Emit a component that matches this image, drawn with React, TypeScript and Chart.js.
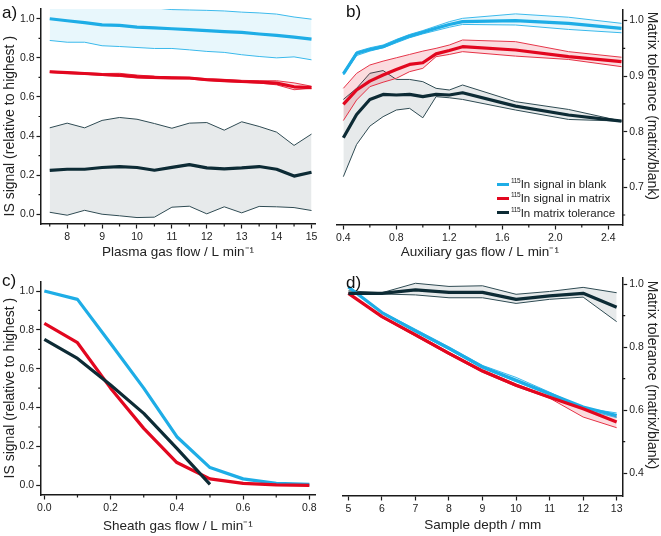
import React, { useEffect, useRef } from 'react';
import { Chart, registerables } from 'chart.js';

Chart.register(...registerables);

// ---------- colours & font ----------
const FONT = "'Liberation Sans', Arial, Helvetica, sans-serif";
const BLUE = '#1eade6';
const BLUE_BAND = '#3cbaec';
const BLUE_FILL = 'rgba(30,173,230,0.10)';
const RED = '#e2071f';
const RED_BAND = '#e6364a';
const RED_FILL = 'rgba(226,7,31,0.14)';
const DARK = '#0d2b35';
const DARK_BAND = '#2f4b53';
const DARK_FILL = 'rgba(60,80,90,0.12)';
const AXIS = '#1a1a1a';
const TEXT = '#222222';

// ---------- panel a: plasma gas flow ----------
const plasmaFlow = [7.5, 8, 8.5, 9, 9.5, 10, 10.5, 11, 11.5, 12, 12.5, 13, 13.5, 14, 14.5, 15];
const plasmaBlank = [1.0, 0.99, 0.98, 0.969, 0.966, 0.957, 0.953, 0.949, 0.944, 0.939, 0.934, 0.93, 0.922, 0.915, 0.906, 0.896];
const plasmaBlankHi = [1.11, 1.1, 1.09, 1.08, 1.075, 1.065, 1.056, 1.047, 1.045, 1.043, 1.04, 1.034, 1.03, 1.024, 1.009, 0.998];
const plasmaBlankLo = [0.889, 0.88, 0.88, 0.862, 0.858, 0.853, 0.848, 0.848, 0.841, 0.833, 0.828, 0.816, 0.807, 0.8, 0.805, 0.79];
const plasmaMatrix = [0.729, 0.724, 0.72, 0.715, 0.712, 0.704, 0.7, 0.698, 0.697, 0.688, 0.684, 0.679, 0.676, 0.671, 0.652, 0.648];
const plasmaMatrixHi = [0.732, 0.728, 0.724, 0.72, 0.721, 0.712, 0.706, 0.702, 0.7, 0.694, 0.69, 0.685, 0.683, 0.683, 0.672, 0.655];
const plasmaMatrixLo = [0.725, 0.72, 0.716, 0.71, 0.705, 0.697, 0.694, 0.694, 0.692, 0.684, 0.679, 0.675, 0.671, 0.662, 0.637, 0.644];
const plasmaTol = [0.224, 0.23, 0.23, 0.239, 0.244, 0.239, 0.225, 0.24, 0.254, 0.237, 0.232, 0.237, 0.244, 0.23, 0.195, 0.215];
const plasmaTolHi = [0.442, 0.466, 0.442, 0.48, 0.495, 0.486, 0.464, 0.44, 0.466, 0.469, 0.43, 0.473, 0.449, 0.42, 0.352, 0.41];
const plasmaTolLo = [0.01, -0.005, 0.02, 0.0, -0.008, -0.017, -0.015, 0.036, 0.041, 0.002, 0.038, 0.007, 0.04, 0.038, 0.034, 0.019];

// ---------- panel b: auxiliary gas flow ----------
const auxFlow = [0.4, 0.5, 0.6, 0.7, 0.8, 0.9, 1.0, 1.1, 1.2, 1.3, 1.7, 2.1, 2.5];
const auxBlank = [0.904, 0.941, 0.948, 0.953, 0.963, 0.972, 0.979, 0.986, 0.993, 0.998, 1.0, 0.995, 0.986];
const auxBlankHi = [0.906, 0.944, 0.951, 0.956, 0.966, 0.975, 0.982, 0.99, 0.998, 1.004, 1.012, 1.006, 0.995];
const auxBlankLo = [0.902, 0.937, 0.945, 0.951, 0.96, 0.969, 0.976, 0.982, 0.988, 0.993, 0.992, 0.984, 0.978];
const auxMatrix = [0.849, 0.875, 0.891, 0.902, 0.912, 0.921, 0.924, 0.94, 0.946, 0.953, 0.947, 0.935, 0.926];
const auxMatrixHi = [0.878, 0.905, 0.92, 0.927, 0.933, 0.939, 0.945, 0.95, 0.956, 0.965, 0.962, 0.944, 0.934];
const auxMatrixLo = [0.82, 0.857, 0.881, 0.889, 0.896, 0.908, 0.914, 0.935, 0.939, 0.944, 0.936, 0.93, 0.917];
const auxTol = [0.789, 0.831, 0.858, 0.867, 0.866, 0.867, 0.863, 0.867, 0.866, 0.87, 0.846, 0.83, 0.819];
const auxTolHi = [0.858, 0.878, 0.905, 0.91, 0.894, 0.894, 0.89, 0.878, 0.875, 0.884, 0.854, 0.84, 0.819];
const auxTolLo = [0.719, 0.777, 0.81, 0.827, 0.839, 0.842, 0.825, 0.863, 0.861, 0.858, 0.839, 0.822, 0.819];

// ---------- panel c: sheath gas flow ----------
const sheathFlow = [0, 0.1, 0.2, 0.3, 0.4, 0.5, 0.6, 0.7, 0.8];
const sheathBlank = [1.0, 0.957, 0.73, 0.5, 0.25, 0.091, 0.033, 0.01, 0.005];
const sheathMatrix = [0.833, 0.734, 0.5, 0.293, 0.117, 0.033, 0.01, 0.002, 0.0];
const sheathTolFlow = [0, 0.1, 0.2, 0.3, 0.4, 0.5];
const sheathTol = [0.751, 0.653, 0.516, 0.37, 0.19, 0.005];

// ---------- panel d: sample depth ----------
const depth = [5, 6, 7, 8, 9, 10, 11, 12, 13];
const depthTol = [0.971, 0.971, 0.982, 0.974, 0.974, 0.952, 0.963, 0.971, 0.927];
const depthTolHi = [0.979, 0.973, 1.003, 0.993, 0.995, 0.968, 0.977, 0.99, 0.973];
const depthTolLo = [0.969, 0.969, 0.966, 0.957, 0.957, 0.939, 0.952, 0.959, 0.881];
const depthBlank = [0.991, 0.91, 0.852, 0.796, 0.737, 0.695, 0.652, 0.61, 0.583];
const depthBlankHi = [0.992, 0.912, 0.857, 0.801, 0.742, 0.704, 0.657, 0.607, 0.591];
const depthBlankLo = [0.99, 0.908, 0.848, 0.792, 0.733, 0.69, 0.648, 0.603, 0.576];
const depthMatrix = [0.971, 0.897, 0.839, 0.78, 0.724, 0.679, 0.641, 0.604, 0.562];
const depthMatrixHi = [0.973, 0.899, 0.843, 0.784, 0.728, 0.683, 0.643, 0.61, 0.578];
const depthMatrixLo = [0.969, 0.894, 0.835, 0.776, 0.72, 0.675, 0.638, 0.578, 0.544];

// ---------- ticks ----------
const plasmaMajorX = [8, 9, 10, 11, 12, 13, 14, 15];
const plasmaMinorX = [7.5, 8.5, 9.5, 10.5, 11.5, 12.5, 13.5, 14.5];
const signalMajorY = [0, 0.2, 0.4, 0.6, 0.8, 1.0];
const signalMinorY = [0.1, 0.3, 0.5, 0.7, 0.9];
const auxMajorX = [0.4, 0.8, 1.2, 1.6, 2.0, 2.4];
const auxMinorX = [0.6, 1.0, 1.4, 1.8, 2.2];
const tolMajorB = [0.7, 0.8, 0.9, 1.0];
const tolMinorB = [0.65, 0.75, 0.85, 0.95];
const sheathMajorX = [0, 0.2, 0.4, 0.6, 0.8];
const sheathMinorX = [0.1, 0.3, 0.5, 0.7];
const depthMajorX = [5, 6, 7, 8, 9, 10, 11, 12, 13];
const tolMajorD = [0.4, 0.6, 0.8, 1.0];
const tolMinorD = [0.5, 0.7, 0.9];

// ---------- labels ----------
const ySignalTitle = 'IS signal (relative to highest )';
const yTolTitle = 'Matrix tolerance (matrix/blank)';
const xTitleA = 'Plasma gas flow / L min\u207B\u00B9';
const xTitleB = 'Auxiliary gas flow / L min\u207B\u00B9';
const xTitleC = 'Sheath gas flow / L min\u207B\u00B9';
const xTitleD = 'Sample depth / mm';
const legendIsotope = '115';
const legendLabels = ['In signal in blank', 'In signal in matrix', 'In matrix tolerance'];
const legendColors = [BLUE, RED, DARK];

// ---------- helpers ----------
function pts(xs: number[], ys: number[]) {
  return xs.map((x, i) => ({ x, y: ys[i] }));
}
function line(xs: number[], ys: number[], color: string, width: number, extra: any = {}) {
  return {
    data: pts(xs, ys),
    borderColor: color,
    backgroundColor: color,
    borderWidth: width,
    pointRadius: 0,
    pointHoverRadius: 0,
    tension: 0,
    fill: false,
    borderJoinStyle: 'round',
    ...extra,
  };
}
function band(xs: number[], hi: number[], lo: number[], color: string, fillColor: string) {
  return [
    line(xs, hi, color, 1, { fill: '+1', backgroundColor: fillColor }),
    line(xs, lo, color, 1),
  ];
}
const near = (a: number, list: number[]) => list.some((b) => Math.abs(a - b) < 1e-6);

// draws short minor tick marks on scales that define options.minorValues
const minorTickPlugin = {
  id: 'minorTicks',
  afterDraw(chart: any) {
    const ctx = chart.ctx;
    Object.values(chart.scales).forEach((s: any) => {
      const vals: number[] = s.options.minorValues || [];
      if (!vals.length) return;
      ctx.save();
      ctx.strokeStyle = AXIS;
      ctx.lineWidth = 1.2;
      ctx.beginPath();
      vals.forEach((v) => {
        const p = s.getPixelForValue(v);
        if (s.isHorizontal()) {
          ctx.moveTo(p, s.top);
          ctx.lineTo(p, s.top + 2.5);
        } else if (s.position === 'right') {
          ctx.moveTo(s.left, p);
          ctx.lineTo(s.left + 2.5, p);
        } else {
          ctx.moveTo(s.right, p);
          ctx.lineTo(s.right - 2.5, p);
        }
      });
      ctx.stroke();
      ctx.restore();
    });
  },
};

function axis(o: any) {
  const majors: number[] = o.majors;
  return {
    type: 'linear',
    position: o.position,
    min: o.min,
    max: o.max,
    minorValues: o.minors || [],
    afterBuildTicks: (s: any) => {
      s.ticks = majors.map((v) => ({ value: v }));
    },
    afterFit: (s: any) => {
      if (o.position === 'bottom') s.height = o.size;
      else s.width = o.size;
    },
    ticks: {
      autoSkip: false,
      maxRotation: 0,
      minRotation: 0,
      padding: 2,
      color: TEXT,
      font: { family: FONT, size: 10.5 },
      callback: (v: number) => (near(v, majors) ? o.fmt(v) : ''),
    },
    grid: {
      display: true,
      drawOnChartArea: false,
      drawTicks: true,
      tickLength: 4.5,
      tickColor: AXIS,
      tickWidth: 1.2,
    },
    border: { display: true, color: AXIS, width: 1.5 },
    title: {
      display: true,
      text: o.title,
      color: TEXT,
      font: { family: FONT, size: o.titleSize || 14 },
      padding: o.titlePad,
    },
  };
}

function baseOptions(padding: any, x: any, y: any) {
  return {
    responsive: false,
    animation: false,
    events: [],
    layout: { padding },
    plugins: { legend: { display: false }, tooltip: { enabled: false } },
    scales: { x, y },
  };
}

const fmt1 = (v: number) => v.toFixed(1);
const fmt0 = (v: number) => String(Math.round(v));
// trailing spaces shift the rotated, centred title along its axis like in the original
const pad = (t: string, n: number) => t + ' '.repeat(n);

function configA() {
  return {
    type: 'line',
    data: {
      datasets: [
        line(plasmaFlow, plasmaBlank, BLUE, 3.2),
        line(plasmaFlow, plasmaMatrix, RED, 3.2),
        line(plasmaFlow, plasmaTol, DARK, 3.2),
        ...band(plasmaFlow, plasmaMatrixHi, plasmaMatrixLo, RED_BAND, RED_FILL),
        ...band(plasmaFlow, plasmaBlankHi, plasmaBlankLo, BLUE_BAND, BLUE_FILL),
        ...band(plasmaFlow, plasmaTolHi, plasmaTolLo, DARK_BAND, DARK_FILL),
      ],
    },
    options: baseOptions(
      { left: 0, top: 9, right: 15, bottom: 0 },
      axis({ position: 'bottom', min: 7.25, max: 15.1, majors: plasmaMajorX, minors: plasmaMinorX, fmt: fmt0, title: xTitleA, titleSize: 13.5, titlePad: { top: 0, bottom: 8 }, size: 44 }),
      axis({ position: 'left', min: -0.05, max: 1.05, majors: signalMajorY, minors: signalMinorY, fmt: fmt1, title: pad(ySignalTitle, 5), titlePad: { top: 1.6, bottom: 0 }, size: 41 })
    ),
    plugins: [minorTickPlugin],
  };
}

function configB() {
  return {
    type: 'line',
    data: {
      datasets: [
        line(auxFlow, auxBlank, BLUE, 3.2),
        line(auxFlow, auxMatrix, RED, 3.2),
        line(auxFlow, auxTol, DARK, 3.2),
        ...band(auxFlow, auxBlankHi, auxBlankLo, BLUE_BAND, BLUE_FILL),
        ...band(auxFlow, auxMatrixHi, auxMatrixLo, RED_BAND, RED_FILL),
        ...band(auxFlow, auxTolHi, auxTolLo, DARK_BAND, DARK_FILL),
      ],
    },
    options: baseOptions(
      { left: 7, top: 10, right: 0, bottom: 0 },
      axis({ position: 'bottom', min: 0.352, max: 2.509, majors: auxMajorX, minors: auxMinorX, fmt: fmt1, title: xTitleB, titleSize: 13.5, titlePad: { top: 0, bottom: 8 }, size: 43 }),
      axis({ position: 'right', min: 0.632, max: 1.019, majors: tolMajorB, minors: tolMinorB, fmt: fmt1, title: pad(yTolTitle, 6), titlePad: { top: 1, bottom: 0 }, size: 38.3 })
    ),
    plugins: [minorTickPlugin],
  };
}

function configC() {
  return {
    type: 'line',
    data: {
      datasets: [
        line(sheathTolFlow, sheathTol, DARK, 3.2),
        line(sheathFlow, sheathMatrix, RED, 3.2),
        line(sheathFlow, sheathBlank, BLUE, 3.2),
      ],
    },
    options: baseOptions(
      { left: 0, top: 13.3, right: 15, bottom: 0 },
      axis({ position: 'bottom', min: -0.011, max: 0.817, majors: sheathMajorX, minors: sheathMinorX, fmt: fmt1, title: xTitleC, titleSize: 13.5, titlePad: { top: 0, bottom: 1.2 }, size: 41 }),
      axis({ position: 'left', min: -0.05, max: 1.05, majors: signalMajorY, minors: signalMinorY, fmt: fmt1, title: ySignalTitle, titlePad: { top: 1.6, bottom: 0 }, size: 40.7 })
    ),
    plugins: [minorTickPlugin],
  };
}

function configD() {
  return {
    type: 'line',
    data: {
      datasets: [
        line(depth, depthTol, DARK, 3.2),
        line(depth, depthMatrix, RED, 3.2),
        line(depth, depthBlank, BLUE, 3.2),
        ...band(depth, depthTolHi, depthTolLo, DARK_BAND, DARK_FILL),
        ...band(depth, depthBlankHi, depthBlankLo, BLUE_BAND, BLUE_FILL),
        ...band(depth, depthMatrixHi, depthMatrixLo, RED_BAND, RED_FILL),
      ],
    },
    options: baseOptions(
      { left: 12.7, top: 9.3, right: 0, bottom: 0 },
      axis({ position: 'bottom', min: 4.83, max: 13.18, majors: depthMajorX, minors: [], fmt: fmt0, title: xTitleD, titleSize: 13.5, titlePad: { top: 0, bottom: 2.9 }, size: 40 }),
      axis({ position: 'right', min: 0.327, max: 1.022, majors: tolMajorD, minors: tolMinorD, fmt: fmt1, title: pad(yTolTitle, 6), titlePad: { top: 1, bottom: 0 }, size: 38.3 })
    ),
    plugins: [minorTickPlugin],
  };
}

function Panel({ make, left, top, width, height }: any) {
  const ref = useRef<HTMLCanvasElement | null>(null);
  useEffect(() => {
    if (!ref.current) return;
    const chart = new Chart(ref.current, make() as any);
    return () => chart.destroy();
  }, [make]);
  return (
    <canvas
      ref={ref}
      width={width}
      height={height}
      style={{ position: 'absolute', left, top, width, height }}
    />
  );
}

const letterStyle: React.CSSProperties = {
  position: 'absolute',
  fontFamily: FONT,
  fontSize: 17,
  lineHeight: '20px',
  color: '#111',
};

export default function App() {
  return (
    <div style={{ position: 'absolute', left: 0, top: 0, width: 661, height: 536, background: '#fff', overflow: 'hidden' }}>
      <Panel make={configA} left={0} top={0} width={330} height={268} />
      <Panel make={configB} left={330} top={0} width={331} height={268} />
      <Panel make={configC} left={0} top={268} width={330} height={268} />
      <Panel make={configD} left={330} top={268} width={331} height={268} />

      <div style={{ ...letterStyle, left: 2, top: 3 }}>a)</div>
      <div style={{ ...letterStyle, left: 346, top: 2 }}>b)</div>
      <div style={{ ...letterStyle, left: 2, top: 271 }}>c)</div>
      <div style={{ ...letterStyle, left: 346, top: 273 }}>d)</div>

      {legendLabels.map((lab, i) => (
        <div
          key={lab}
          style={{
            position: 'absolute',
            left: 497,
            top: 177 + i * 14.3,
            height: 14,
            display: 'flex',
            alignItems: 'center',
            fontFamily: FONT,
            fontSize: 11.5,
            color: TEXT,
            whiteSpace: 'nowrap',
          }}
        >
          <span style={{ display: 'inline-block', width: 12, height: 3, background: legendColors[i], marginRight: 2 }} />
          <span style={{ fontSize: 6.5, letterSpacing: -0.4, position: 'relative', top: -3.5, marginRight: 0.5 }}>{legendIsotope}</span>
          <span>{lab}</span>
        </div>
      ))}
    </div>
  );
}
